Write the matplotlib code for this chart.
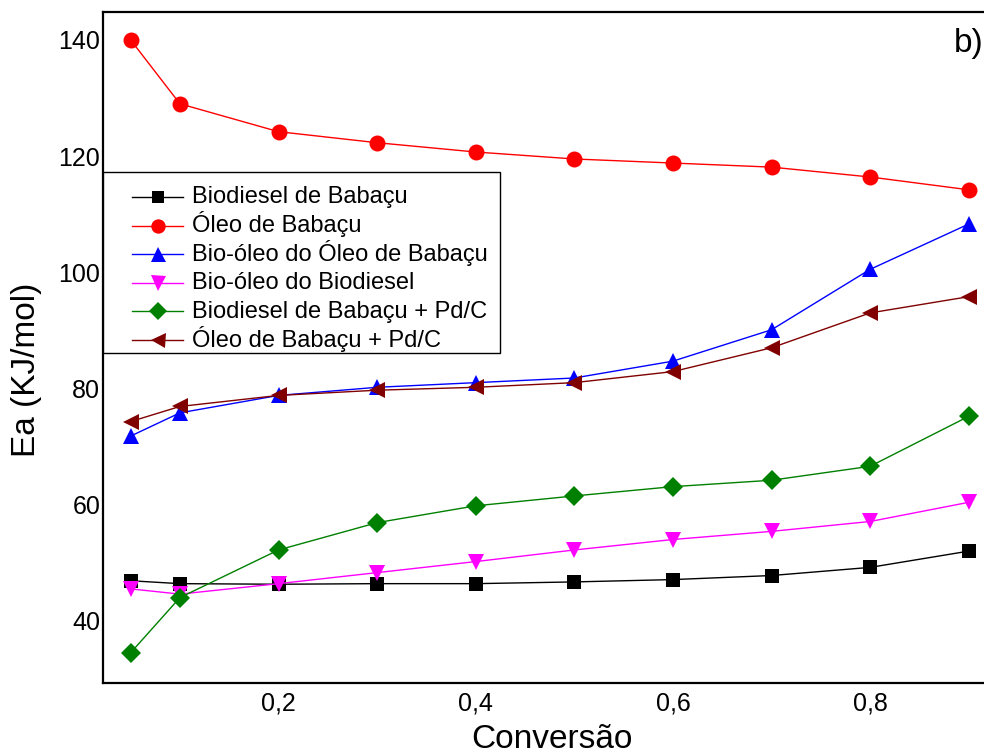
import matplotlib
matplotlib.use("Agg")
import matplotlib.pyplot as plt
from matplotlib.lines import Line2D
from matplotlib.patches import Rectangle
from matplotlib.ticker import FuncFormatter, FixedLocator

plt.rcParams['font.family'] = ['Liberation Sans', 'DejaVu Sans']

conversao = [0.05, 0.1, 0.2, 0.3, 0.4, 0.5, 0.6, 0.7, 0.8, 0.9]

biodiesel = [46.9, 46.4, 46.3, 46.4, 46.4, 46.7, 47.1, 47.8, 49.2, 52.0]
oleo = [140.0, 129.0, 124.2, 122.3, 120.7, 119.5, 118.8, 118.1, 116.4, 114.2]
bio_oleo_oleo = [71.8, 75.8, 78.8, 80.2, 81.0, 81.8, 84.7, 90.1, 100.5, 108.3]
bio_oleo_biodiesel = [45.5, 44.6, 46.4, 48.3, 50.2, 52.2, 54.0, 55.4, 57.1, 60.4]
biodiesel_pdc = [34.5, 44.0, 52.2, 56.9, 59.8, 61.5, 63.1, 64.2, 66.6, 75.2]
oleo_pdc = [74.3, 76.9, 78.8, 79.7, 80.2, 81.0, 82.9, 87.0, 93.0, 95.8]

labels = [
    "Biodiesel de Babaçu",
    "Óleo de Babaçu",
    "Bio-óleo do Óleo de Babaçu",
    "Bio-óleo do Biodiesel",
    "Biodiesel de Babaçu + Pd/C",
    "Óleo de Babaçu + Pd/C",
]
series = [biodiesel, oleo, bio_oleo_oleo, bio_oleo_biodiesel, biodiesel_pdc, oleo_pdc]
colors = ["#000000", "#ff0000", "#0000ff", "#ff00ff", "#008000", "#800000"]
markers = ["s", "o", "^", "v", "D", "<"]
sizes = [10, 11.5, 12, 12, 10.5, 12]

x_ticks = [0.2, 0.4, 0.6, 0.8]
y_ticks = [40, 60, 80, 100, 120, 140]

W, H = 984, 755
fig = plt.figure(figsize=(W / 100, H / 100), dpi=100)
x0, x1 = 0.022, 0.932
px_per_unit = 986.0
ax_w = (x1 - x0) * px_per_unit / W
ax = fig.add_axes([103 / W, 1 - 683 / H, ax_w, (683 - 12) / H])

for ys, lab, c, m, ms in zip(series, labels, colors, markers, sizes):
    ax.plot(conversao, ys, color=c, marker=m, markersize=ms, linewidth=1.0,
            markeredgewidth=0, label=lab, clip_on=False, zorder=2)

ax.set_xlim(x0, x1)
ax.set_ylim(29.3, 144.8)
ax.xaxis.set_major_locator(FixedLocator(x_ticks))
ax.yaxis.set_major_locator(FixedLocator(y_ticks))
ax.xaxis.set_major_formatter(FuncFormatter(lambda v, p: f"{v:.1f}".replace(".", ",")))
ax.yaxis.set_major_formatter(FuncFormatter(lambda v, p: f"{v:.0f}"))
ax.tick_params(axis="both", length=0, labelsize=18, pad=2)
ax.tick_params(axis="x", pad=6)
for s in ax.spines.values():
    s.set_linewidth(1.6)

ax.set_xlabel("Conversão", fontsize=24, labelpad=6)
fig.text(27 / W, 1 - 370 / H, "Ea (KJ/mol)", fontsize=24, rotation=90,
         ha="center", va="center")

# legend: white box with evenly spaced entries (figure pixel layout)
def fx(px):
    return px / W

def fy(py):
    return 1 - py / H

ax.add_patch(Rectangle((fx(103), fy(353)), (500 - 103) / W, (353 - 172) / H,
                       transform=fig.transFigure, facecolor="white",
                       edgecolor="black", linewidth=1.0, zorder=4,
                       clip_on=False))
row0, row_step = 197, 28.6
for i, (lab, c, m, ms) in enumerate(zip(labels, colors, markers, sizes)):
    yc = row0 + i * row_step
    ax.add_line(Line2D([fx(132), fx(183)], [fy(yc), fy(yc)], color=c,
                       linewidth=1.0, transform=fig.transFigure, zorder=5,
                       clip_on=False))
    ax.add_line(Line2D([fx(157.5)], [fy(yc)], color=c, marker=m,
                       markersize=ms * 0.9, markeredgewidth=0, linestyle="none",
                       transform=fig.transFigure, zorder=6, clip_on=False))
    fig.text(fx(192), fy(yc + 6.5), lab, fontsize=17, ha="left",
             va="baseline", zorder=6)

fig.text(954 / W, 1 - 52 / H, "b)", fontsize=24, va="baseline", ha="left")

fig.savefig("out.png", dpi=100)
